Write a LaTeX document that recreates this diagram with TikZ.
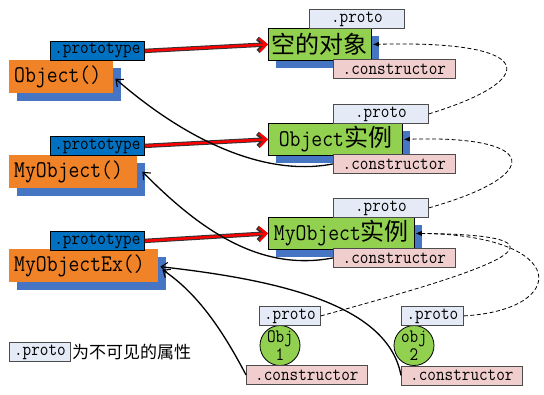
\documentclass[tikz,border=0pt]{standalone}
\usepackage{fontspec}
\setmonofont{Latin Modern Mono}[FakeStretch=0.88]
\newfontfamily\cjk{Noto Sans CJK SC}
\usetikzlibrary{arrows.meta,shadows}
\definecolor{orng}{RGB}{240,130,40}
\definecolor{shblue}{RGB}{70,117,196}
\definecolor{ptblue}{RGB}{0,112,192}
\definecolor{grn}{RGB}{146,208,80}
\definecolor{prlight}{RGB}{228,235,246}
\definecolor{pinkc}{RGB}{240,206,205}
\begin{document}
\begin{tikzpicture}[x=1pt,y=-1pt,
  shadowed/.style={copy shadow={shadow xshift=8pt, shadow yshift=-8pt, fill=shblue, draw=none}},
  bigfont/.style={font=\ttfamily\fontsize{24}{26}\selectfont},
  smallfont/.style={font=\ttfamily\fontsize{19}{20}\selectfont},
  fnbox/.style={shadowed, fill=orng, draw=none, bigfont, anchor=north west, minimum height=33pt, inner ysep=0pt, inner xsep=5pt, align=left},
  prtbox/.style={fill=ptblue, draw=black, line width=0.8pt, smallfont, anchor=north west, minimum width=94pt, minimum height=19pt, inner sep=0pt},
  objbox/.style={shadowed, fill=grn, draw=black, line width=0.8pt, bigfont, anchor=north west, minimum height=32pt, inner sep=0pt},
  pbox/.style={fill=prlight, draw=black!70, line width=0.8pt, smallfont, anchor=north west, minimum height=19pt, inner sep=0pt},
  cbox/.style={fill=pinkc, draw=black!70, line width=0.8pt, smallfont, anchor=north west, minimum width=122pt, minimum height=19pt, inner sep=0pt},
  circ/.style={circle, fill=grn, draw=black, line width=0.8pt, minimum size=40pt, inner sep=0pt, align=center, font=\ttfamily\fontsize{19}{18}\selectfont},
  redout/.style={draw=black!80, line width=4.4pt, -{Straight Barb[length=7pt,width=13pt]}},
  redin/.style={draw=red, line width=2.4pt, -{Straight Barb[length=7pt,width=13pt]}},
  blk/.style={draw=black, line width=1.3pt, -{Straight Barb[length=6pt,width=10pt,line width=1.1pt]}},
  dsh/.style={draw=black, line width=0.8pt, dash pattern=on 4pt off 2.5pt, -{Latex[length=6pt,width=5pt]}}
]
\useasboundingbox[fill=white] (0,0) rectangle (544,394);

% constructor functions
\node[fnbox, text width=94pt] (O1) at (9,60) {Object()};
\node[fnbox, text width=118pt] (M1) at (9,155) {MyObject()};
\node[fnbox, text width=139pt] (E1) at (9,249) {MyObjectEx()};
\node[prtbox] (pt1) at (50,41) {.prototype};
\node[prtbox] (pt2) at (50,136) {.prototype};
\node[prtbox] (pt3) at (50,231) {.prototype};

% prototype objects
\node[objbox, minimum width=103pt] (g1) at (268,28) {{\cjk 空的对象}};
\node[objbox, minimum width=134pt] (g2) at (268,123) {Object{\cjk 实例}};
\node[objbox, minimum width=146pt] (g3) at (268,217) {MyObject{\cjk 实例}};
\node[pbox, minimum width=95pt] (p1) at (309,9) {.proto};
\node[pbox, minimum width=95pt] (p2) at (333,104) {.proto};
\node[pbox, minimum width=95pt] (p3) at (333,198) {.proto};
\node[cbox] (c1) at (333,59) {.constructor};
\node[cbox] (c2) at (333,154) {.constructor};
\node[cbox] (c3) at (333,248) {.constructor};

% instances
\node[circ] (k1) at (280,345.5) {Obj\\1};
\node[circ] (k2) at (414,345.5) {obj\\2};
\node[pbox, minimum width=61pt] (q1) at (259,306) {.proto};
\node[pbox, minimum width=62pt] (q2) at (401,306) {.proto};
\node[cbox, minimum width=121pt] (d1) at (246,365) {.constructor};
\node[cbox, minimum width=121pt] (d2) at (401,365.5) {.constructor};

% legend
\node[pbox, minimum width=61pt] (L) at (9,342) {.proto};
\node[anchor=west, inner sep=1pt, font=\cjk\fontsize{17}{20}\selectfont] (Lt) at (L.east) {为不可见的属性};

% red prototype arrows
\draw[redout] (pt1.east) -- (g1.west);
\draw[redin] (pt1.east) -- (g1.west);
\draw[redout] (pt2.east) -- (g2.west);
\draw[redin] (pt2.east) -- (g2.west);
\draw[redout] (pt3.east) -- (g3.west);
\draw[redin] (pt3.east) -- (g3.west);

% constructor arrows
\draw[blk] (c2.west) .. controls (260,178) and (180,135) .. ([shift={(2,2)}]O1.east);
\draw[blk] (c3.west) .. controls (260,272) and (200,230) .. ([shift={(5,0)}]M1.east);
\draw[blk] (d2.west) .. controls (388,305) and (280,280) .. ([shift={(2,1)}]E1.east);
\draw[blk] (d1.west) .. controls (225,335) and (200,295) .. ([shift={(4,4)}]E1.east);

% proto chain (dashed)
\draw[dsh] (p2.east) .. controls (540,80) and (540,40) .. ([xshift=1pt]g1.east);
\draw[dsh] (p3.east) .. controls (545,175) and (540,135) .. ([xshift=1pt]g2.east);
\draw[dsh] (q1.east) .. controls (470,275) and (605,235) .. ([xshift=1pt]g3.east);
\draw[dsh] (q2.east) .. controls (570,310) and (570,235) .. ([xshift=1pt]g3.east);
\end{tikzpicture}
\end{document}
